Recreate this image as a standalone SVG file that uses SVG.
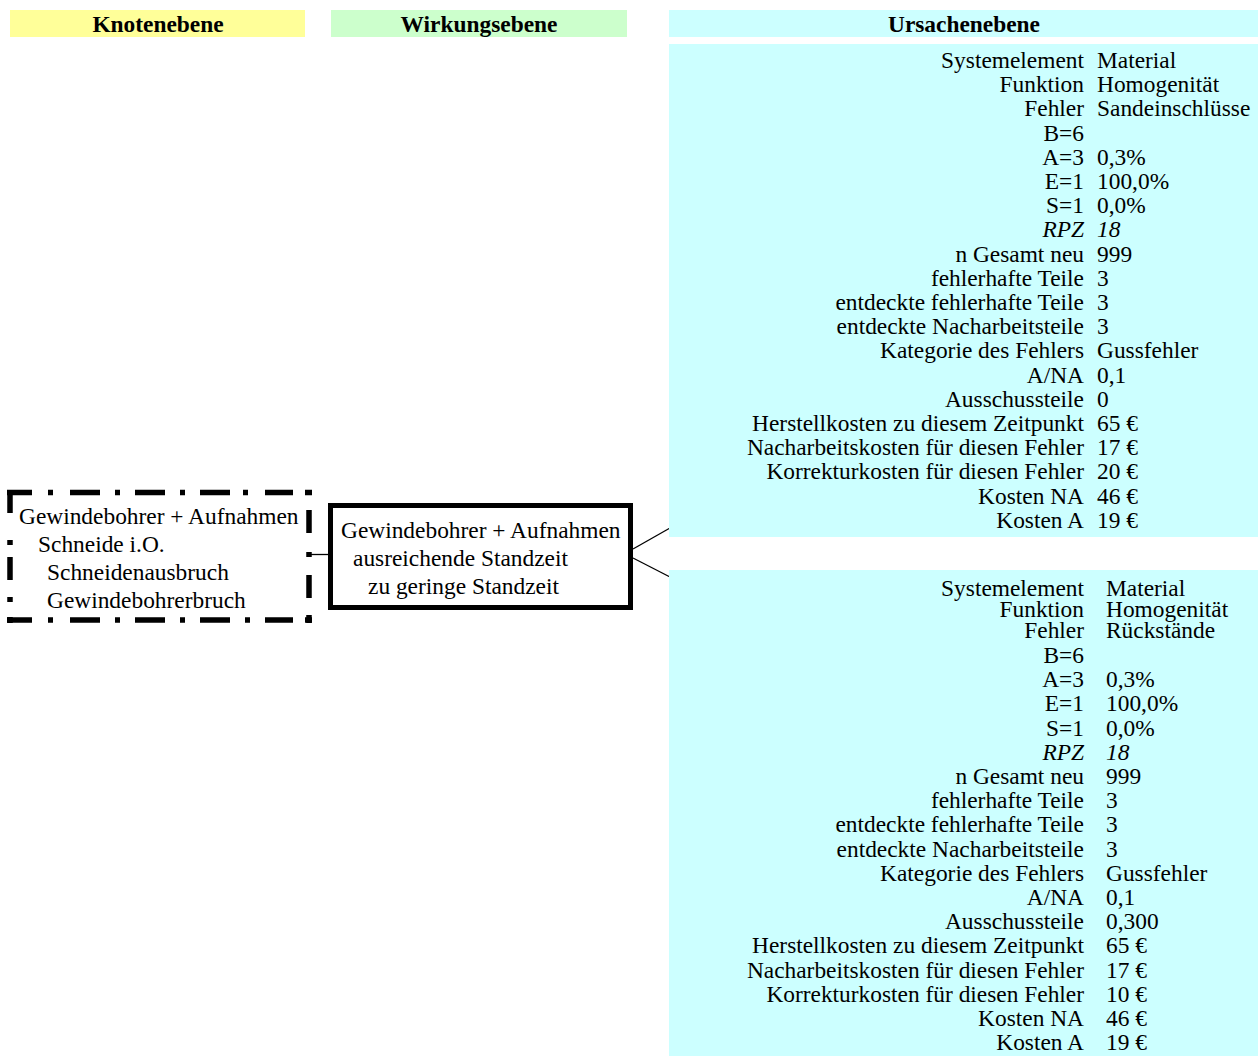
<svg xmlns="http://www.w3.org/2000/svg" width="1258" height="1056" viewBox="0 0 1258 1056">
<style>
text{font-family:"Liberation Serif","Times New Roman",serif;font-size:23.4px;fill:#000}
.h{font-weight:bold;text-anchor:middle}
.r{text-anchor:end}
.i{font-style:italic}
.c{stroke:#000;stroke-width:1.3;fill:none}
.dash{stroke:#000;stroke-width:5.5;fill:none;stroke-linecap:butt}
</style>
<rect width="1258" height="1056" fill="#fff"/>
<g id="headers">
<rect x="10" y="10" width="295" height="27" fill="#ffff99"/>
<text class="h" x="158" y="32">Knotenebene</text>
<rect x="331" y="10" width="296" height="27" fill="#ccffcc"/>
<text class="h" x="479" y="32">Wirkungsebene</text>
<rect x="669" y="10" width="589" height="27" fill="#ccffff"/>
<text class="h" x="964" y="32">Ursachenebene</text>
</g>
<g id="connectors">
<line class="c" x1="311" y1="554.5" x2="330" y2="554.5"/>
<line class="c" x1="633" y1="549" x2="670" y2="528"/>
<line class="c" x1="633" y1="558" x2="670" y2="577"/>
</g>
<g id="node-knoten">
<path class="dash" d="M7 492.5H32M48 492.5H53M70 492.5H100M115 492.5H120M135 492.5H165M180 492.5H185M200 492.5H230M243 492.5H248M265 492.5H293M305 492.5H312
M7 620H32M48 620H53M70 620H100M115 620H120M135 620H165M180 620H185M200 620H230M245 620H250M265 620H293M305 620H312
M10 490V513M10 540V545M10 557V580M10 597V602M10 617V623
M309 490V494M309 510V533M309 552V557M309 575V598M309 615V623"/>
<text x="19" y="524">Gewindebohrer + Aufnahmen</text>
<text x="38" y="552">Schneide i.O.</text>
<text x="47" y="580">Schneidenausbruch</text>
<text x="47" y="608">Gewindebohrerbruch</text>
</g>
<g id="node-wirkung">
<rect x="330.5" y="505.5" width="300" height="102" fill="#fff" stroke="#000" stroke-width="5"/>
<text x="341" y="538">Gewindebohrer + Aufnahmen</text>
<text x="353" y="566">ausreichende Standzeit</text>
<text x="368" y="594">zu geringe Standzeit</text>
</g>
<g id="node-ursache1">
<rect x="669" y="44" width="589" height="493" fill="#ccffff"/>
<text class="r" x="1084" y="68">Systemelement</text><text x="1097" y="68">Material</text>
<text class="r" x="1084" y="92.2">Funktion</text><text x="1097" y="92.2">Homogenität</text>
<text class="r" x="1084" y="116.4">Fehler</text><text x="1097" y="116.4">Sandeinschlüsse</text>
<text class="r" x="1084" y="140.6">B=6</text>
<text class="r" x="1084" y="164.8">A=3</text><text x="1097" y="164.8">0,3%</text>
<text class="r" x="1084" y="189">E=1</text><text x="1097" y="189">100,0%</text>
<text class="r" x="1084" y="213.2">S=1</text><text x="1097" y="213.2">0,0%</text>
<text class="r i" x="1084" y="237.4">RPZ</text><text class="i" x="1097" y="237.4">18</text>
<text class="r" x="1084" y="261.6">n Gesamt neu</text><text x="1097" y="261.6">999</text>
<text class="r" x="1084" y="285.8">fehlerhafte Teile</text><text x="1097" y="285.8">3</text>
<text class="r" x="1084" y="310">entdeckte fehlerhafte Teile</text><text x="1097" y="310">3</text>
<text class="r" x="1084" y="334.2">entdeckte Nacharbeitsteile</text><text x="1097" y="334.2">3</text>
<text class="r" x="1084" y="358.4">Kategorie des Fehlers</text><text x="1097" y="358.4">Gussfehler</text>
<text class="r" x="1084" y="382.6">A/NA</text><text x="1097" y="382.6">0,1</text>
<text class="r" x="1084" y="406.8">Ausschussteile</text><text x="1097" y="406.8">0</text>
<text class="r" x="1084" y="431">Herstellkosten zu diesem Zeitpunkt</text><text x="1097" y="431">65 €</text>
<text class="r" x="1084" y="455.2">Nacharbeitskosten für diesen Fehler</text><text x="1097" y="455.2">17 €</text>
<text class="r" x="1084" y="479.4">Korrekturkosten für diesen Fehler</text><text x="1097" y="479.4">20 €</text>
<text class="r" x="1084" y="503.6">Kosten NA</text><text x="1097" y="503.6">46 €</text>
<text class="r" x="1084" y="527.8">Kosten A</text><text x="1097" y="527.8">19 €</text>
</g>
<g id="node-ursache2">
<rect x="669" y="570" width="589" height="486" fill="#ccffff"/>
<text class="r" x="1084" y="596">Systemelement</text><text x="1106" y="596">Material</text>
<text class="r" x="1084" y="617">Funktion</text><text x="1106" y="617">Homogenität</text>
<text class="r" x="1084" y="638">Fehler</text><text x="1106" y="638">Rückstände</text>
<text class="r" x="1084" y="663">B=6</text>
<text class="r" x="1084" y="687.2">A=3</text><text x="1106" y="687.2">0,3%</text>
<text class="r" x="1084" y="711.4">E=1</text><text x="1106" y="711.4">100,0%</text>
<text class="r" x="1084" y="735.6">S=1</text><text x="1106" y="735.6">0,0%</text>
<text class="r i" x="1084" y="759.8">RPZ</text><text class="i" x="1106" y="759.8">18</text>
<text class="r" x="1084" y="784">n Gesamt neu</text><text x="1106" y="784">999</text>
<text class="r" x="1084" y="808.2">fehlerhafte Teile</text><text x="1106" y="808.2">3</text>
<text class="r" x="1084" y="832.4">entdeckte fehlerhafte Teile</text><text x="1106" y="832.4">3</text>
<text class="r" x="1084" y="856.6">entdeckte Nacharbeitsteile</text><text x="1106" y="856.6">3</text>
<text class="r" x="1084" y="880.8">Kategorie des Fehlers</text><text x="1106" y="880.8">Gussfehler</text>
<text class="r" x="1084" y="905">A/NA</text><text x="1106" y="905">0,1</text>
<text class="r" x="1084" y="929.2">Ausschussteile</text><text x="1106" y="929.2">0,300</text>
<text class="r" x="1084" y="953.4">Herstellkosten zu diesem Zeitpunkt</text><text x="1106" y="953.4">65 €</text>
<text class="r" x="1084" y="977.6">Nacharbeitskosten für diesen Fehler</text><text x="1106" y="977.6">17 €</text>
<text class="r" x="1084" y="1001.8">Korrekturkosten für diesen Fehler</text><text x="1106" y="1001.8">10 €</text>
<text class="r" x="1084" y="1026">Kosten NA</text><text x="1106" y="1026">46 €</text>
<text class="r" x="1084" y="1050.2">Kosten A</text><text x="1106" y="1050.2">19 €</text>
</g>
</svg>
